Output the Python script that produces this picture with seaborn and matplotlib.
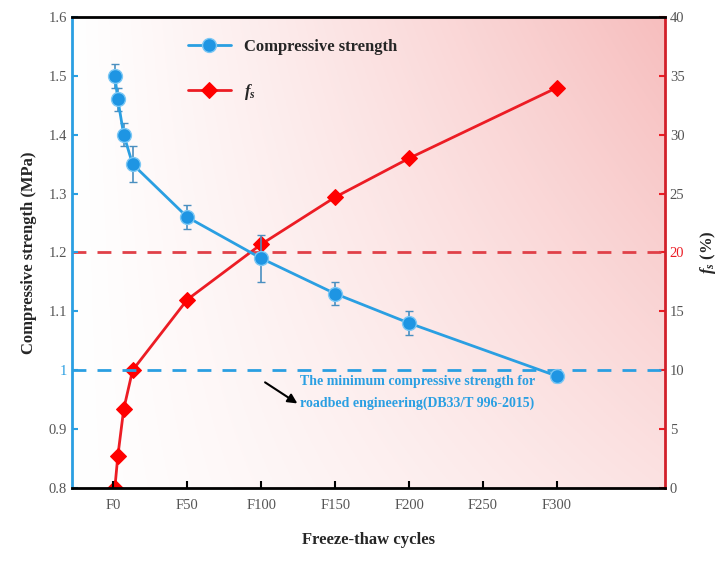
import matplotlib
matplotlib.use("Agg")
import matplotlib.pyplot as plt
import numpy as np
import pandas as pd
import seaborn as sns
from matplotlib.ticker import FuncFormatter

# freeze-thaw cycles (the first four points sit close together near F0)
cycles = [1, 3, 7, 13, 50, 100, 150, 200, 300]
strength = [1.50, 1.46, 1.40, 1.35, 1.26, 1.19, 1.13, 1.08, 0.99]
strength_err = [0.02, 0.02, 0.02, 0.03, 0.02, 0.04, 0.02, 0.02, 0.01]
fs = [0.0, 2.7, 6.7, 10.0, 16.0, 20.7, 24.7, 28.0, 34.0]
x_ticks = [0, 50, 100, 150, 200, 250, 300]
x_labels = ["F0", "F50", "F100", "F150", "F200", "F250", "F300"]

BLUE = "#2a9fe2"
RED = "#ec1c24"

sns.set_theme(style="white")
plt.rcParams["font.family"] = ["Liberation Serif", "DejaVu Serif"]
plt.rcParams["mathtext.fontset"] = "custom"
plt.rcParams["mathtext.it"] = "Liberation Serif:italic:bold"
plt.rcParams["mathtext.rm"] = "Liberation Serif:bold"
plt.rcParams["mathtext.bf"] = "Liberation Serif:bold"

df = pd.DataFrame({"cycles": cycles, "strength": strength, "fs": fs})

fig = plt.figure(figsize=(7.24, 5.65), dpi=100)
ax = fig.add_axes([0.0994, 0.1363, 0.8191, 0.8337])
ax2 = ax.twinx()

xlim = (-28, 373)
ylim = (0.8, 1.6)

# pink gradient background, strongest at top right (drawn on the lower axes)
nx, ny = 300, 200
xf = np.linspace(0, 1, nx)[None, :]
yf = np.linspace(0, 1, ny)[:, None]
t = np.clip(xf ** 1.1 * (0.45 + 0.55 * yf), 0, 1)
top = np.array([247, 190, 190]) / 255
img = np.ones((ny, nx, 3)) * (1 - t[..., None]) + top * t[..., None]
ax2.imshow(img, extent=[xlim[0], xlim[1], 0, 40], origin="lower",
           aspect="auto", zorder=0)

# reference lines
ax.axhline(1.0, color=BLUE, ls=(0, (5, 4)), lw=2, zorder=1)
ax2.axhline(20, color="#e04048", ls=(0, (5, 4)), lw=2, zorder=1)

sns.lineplot(data=df, x="cycles", y="fs", ax=ax2, color=RED, lw=2,
             marker="D", markersize=8, markerfacecolor="#ff0000",
             markeredgecolor="#ff0000", zorder=4, label="$f_s$",
             legend=False)
ax.errorbar(cycles, strength, yerr=strength_err, fmt="none", ecolor="#4a8fc0",
            elinewidth=1.2, capsize=3, zorder=3)
sns.lineplot(data=df, x="cycles", y="strength", ax=ax, color=BLUE, lw=2,
             marker="o", markersize=10, markerfacecolor="#1e95e3",
             markeredgecolor="#7cc8f5", markeredgewidth=1, zorder=4,
             label="Compressive strength", legend=False)

ax.set_xlim(*xlim)
ax2.set_xlim(*xlim)
ax.set_ylim(*ylim)
ax2.set_ylim(0, 40)
ax.set_xticks(x_ticks)
ax.set_xticklabels(x_labels)
ax.set_yticks(np.arange(0.8, 1.61, 0.1))
ax.yaxis.set_major_formatter(FuncFormatter(lambda v, p: "1" if abs(v - 1) < 1e-6 else f"{v:.1f}"))
ax2.set_yticks(np.arange(0, 41, 5))

ax.set_zorder(ax2.get_zorder() + 1)
ax.patch.set_visible(False)
ax2.patch.set_visible(True)

for a in (ax, ax2):
    a.tick_params(direction="in", length=4, width=1.5, labelsize=10.5,
                  labelcolor="#555555")
ax.tick_params(axis="y", left=True, colors=BLUE, labelcolor="#555555")
ax2.tick_params(axis="y", right=True, colors=RED, labelcolor="#555555")
ax.tick_params(axis="x", bottom=True, colors="black", labelcolor="#555555",
               pad=8, length=5)
fig.canvas.draw()
for lab in ax.get_yticklabels():
    if lab.get_text() == "1":
        lab.set_color(BLUE)
for lab in ax2.get_yticklabels():
    if lab.get_text() == "20":
        lab.set_color(RED)

for s in ("top", "bottom"):
    ax.spines[s].set_color("black")
    ax.spines[s].set_linewidth(2)
    ax2.spines[s].set_visible(False)
ax.spines["left"].set_color(BLUE)
ax.spines["left"].set_linewidth(2)
ax.spines["right"].set_visible(False)
ax2.spines["right"].set_color("#d2202a")
ax2.spines["right"].set_linewidth(2)
ax2.spines["left"].set_visible(False)

ax.set_xlabel("Freeze-thaw cycles", fontsize=12, fontweight="bold", labelpad=14)
ax.set_ylabel("Compressive strength (MPa)", fontsize=12, fontweight="bold", labelpad=8)
ax2.set_ylabel("$f_s$ (%)", fontsize=12, fontweight="bold", labelpad=10)

ax.annotate("", xy=(126, 0.941), xytext=(101, 0.982),
            arrowprops=dict(arrowstyle="-|>", color="black", lw=1.5,
                            mutation_scale=14), zorder=5)
ax.text(126, 0.962, "The minimum compressive strength for\nroadbed engineering(DB33/T 996-2015)",
        color=BLUE, fontsize=10, fontweight="bold", va="center", ha="left",
        linespacing=1.9, zorder=5)

h1, l1 = ax.get_legend_handles_labels()
h2, l2 = ax2.get_legend_handles_labels()
leg = ax.legend(h1 + h2, l1 + l2, loc="upper left", bbox_to_anchor=(0.17, 0.985),
                frameon=False, labelspacing=1.6, handlelength=2.6,
                prop={"weight": "bold", "size": 12})

fig.savefig("out.png", dpi=100)
